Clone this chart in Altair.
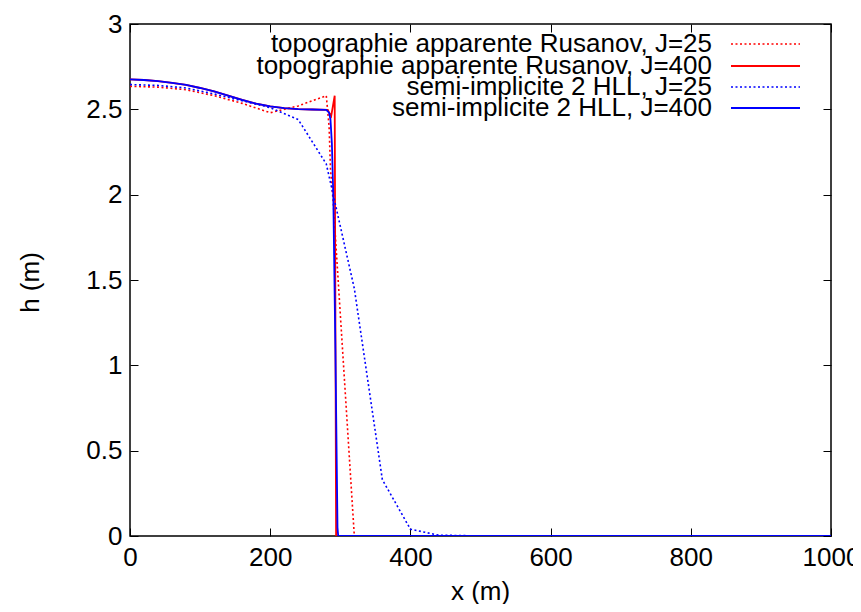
import altair as alt
import pandas as pd

# ---- data ----
x_rus25 = [0, 40, 80, 120, 160, 200, 240, 280, 284, 286, 290, 320, 1000]
h_rus25 = [2.635, 2.63, 2.615, 2.58, 2.535, 2.48, 2.52, 2.58, 2.40, 2.15, 1.95, 0.0, 0.0]

x_rus400 = [0, 20, 40, 60, 80, 100, 120, 140, 160, 180, 200, 220, 240, 260, 282, 287, 292, 294, 1000]
h_rus400 = [2.675, 2.672, 2.665, 2.655, 2.643, 2.625, 2.605, 2.58, 2.555, 2.533, 2.517, 2.507,
            2.501, 2.499, 2.497, 2.46, 2.58, 0.0, 0.0]

x_hll25 = [0, 40, 80, 120, 160, 200, 240, 280, 320, 360, 400, 440, 480, 520, 1000]
h_hll25 = [2.645, 2.64, 2.625, 2.59, 2.55, 2.51, 2.44, 2.18, 1.45, 0.33, 0.04, 0.005, 0.002, 0.0, 0.0]

x_hll400 = [0, 20, 40, 60, 80, 100, 120, 140, 160, 180, 200, 220, 240, 260, 280, 284, 286, 288,
            290, 293, 296, 297, 1000]
h_hll400 = [2.675, 2.672, 2.665, 2.655, 2.643, 2.625, 2.605, 2.58, 2.555, 2.533, 2.517, 2.507,
            2.501, 2.499, 2.497, 2.48, 2.44, 2.30, 2.0, 1.1, 0.05, 0.0, 0.0]

series_names = [
    "topographie apparente Rusanov, J=25",
    "topographie apparente Rusanov, J=400",
    "semi-implicite 2 HLL, J=25",
    "semi-implicite 2 HLL, J=400",
]
series_x = [x_rus25, x_rus400, x_hll25, x_hll400]
series_h = [h_rus25, h_rus400, h_hll25, h_hll400]
series_colors = ["#ff0000", "#ff0000", "#0000ff", "#0000ff"]
series_dotted = [True, False, True, False]

x_ticks = [0, 200, 400, 600, 800, 1000]
y_ticks = [0, 0.5, 1, 1.5, 2, 2.5, 3]

FONT = "Liberation Sans"
FS = 26
W, H = 701, 512
DOT = [2, 2.5]

xscale = alt.Scale(domain=[0, 1000], nice=False, zero=False)
yscale = alt.Scale(domain=[0, 3], nice=False, zero=False)

x_axis = alt.Axis(orient="bottom", values=x_ticks, format="d", offset=-8,
                  tickSize=8, domain=False, grid=False, labelPadding=8, labelFlush=False,
                  labelFont=FONT, labelFontSize=FS, labelColor="black",
                  labelFontWeight="normal", tickColor="black", tickWidth=1,
                  title="x (m)", titleFont=FONT, titleFontSize=FS,
                  titleFontWeight="normal", titleColor="black",
                  titleX=350, titleY=63, titleBaseline="middle")
y_axis = alt.Axis(orient="left", values=y_ticks, format=".1~f", offset=-8, tickSize=8,
                  domain=False, grid=False, labelPadding=8, labelFlush=False,
                  labelFont=FONT, labelFontSize=FS, labelColor="black",
                  labelFontWeight="normal", tickColor="black", tickWidth=1,
                  title="h (m)", titleFont=FONT, titleFontSize=FS,
                  titleFontWeight="normal", titleColor="black",
                  titleX=-108, titleY=258, titleAngle=270,
                  titleAlign="center", titleBaseline="middle")

layers = []
for k, (name, xs, hs, col, dot) in enumerate(
        zip(series_names, series_x, series_h, series_colors, series_dotted)):
    df = pd.DataFrame({"x": xs, "h": hs, "i": list(range(len(xs))), "s": name})
    kw = dict(color=col, strokeWidth=1.6 if dot else 1.8, clip=True)
    if dot:
        kw["strokeDash"] = DOT
    layers.append(
        alt.Chart(df).mark_line(**kw).encode(
            x=alt.X("x:Q", scale=xscale, axis=x_axis if k == 0 else None),
            y=alt.Y("h:Q", scale=yscale, axis=y_axis if k == 0 else None),
            order="i:Q",
        )
    )

# mirrored ticks on top and right
mirror_df = pd.DataFrame({"x": [0, 1000], "h": [0, 3]})
mirror = alt.Chart(mirror_df).mark_point(opacity=0).encode(
    x=alt.X("x:Q", scale=xscale,
            axis=alt.Axis(orient="top", values=x_ticks, offset=-8, tickSize=8, domain=False,
                          grid=False, labels=False, title=None, tickColor="black", tickWidth=1)),
    y=alt.Y("h:Q", scale=yscale,
            axis=alt.Axis(orient="right", values=y_ticks, offset=-8, tickSize=8, domain=False,
                          grid=False, labels=False, title=None, tickColor="black", tickWidth=1)),
)

# manual gnuplot-style legend (label right-aligned, sample to the right)
leg_y = [20, 42, 63, 84]
leg_df = pd.DataFrame({"label": series_names, "ly": leg_y, "col": series_colors})
leg_text = alt.Chart(leg_df).mark_text(align="right", baseline="middle", font=FONT,
                                        fontSize=FS, color="black").encode(
    x=alt.value(582), y=alt.Y("ly:Q", scale=None), text="label:N")

leg_lines = []
for name, col, dot, ly in zip(series_names, series_colors, series_dotted, leg_y):
    kw = dict(color=col, strokeWidth=1.6 if dot else 1.8)
    if dot:
        kw["strokeDash"] = DOT
    d = pd.DataFrame({"label": [name]})
    leg_lines.append(alt.Chart(d).mark_rule(**kw).encode(
        x=alt.value(601), x2=alt.value(670), y=alt.value(ly)))

chart = alt.layer(mirror, *layers, leg_text, *leg_lines).resolve_axis(
    x="independent", y="independent"
).properties(
    width=W, height=H,
    autosize=alt.AutoSizeParams(type="none"),
    padding={"left": 122, "top": 16, "right": 22, "bottom": 68},
    background="white",
).configure_view(stroke="black", strokeWidth=1.5)

chart.save("out.html", embed_options={"renderer": "svg", "actions": False})
